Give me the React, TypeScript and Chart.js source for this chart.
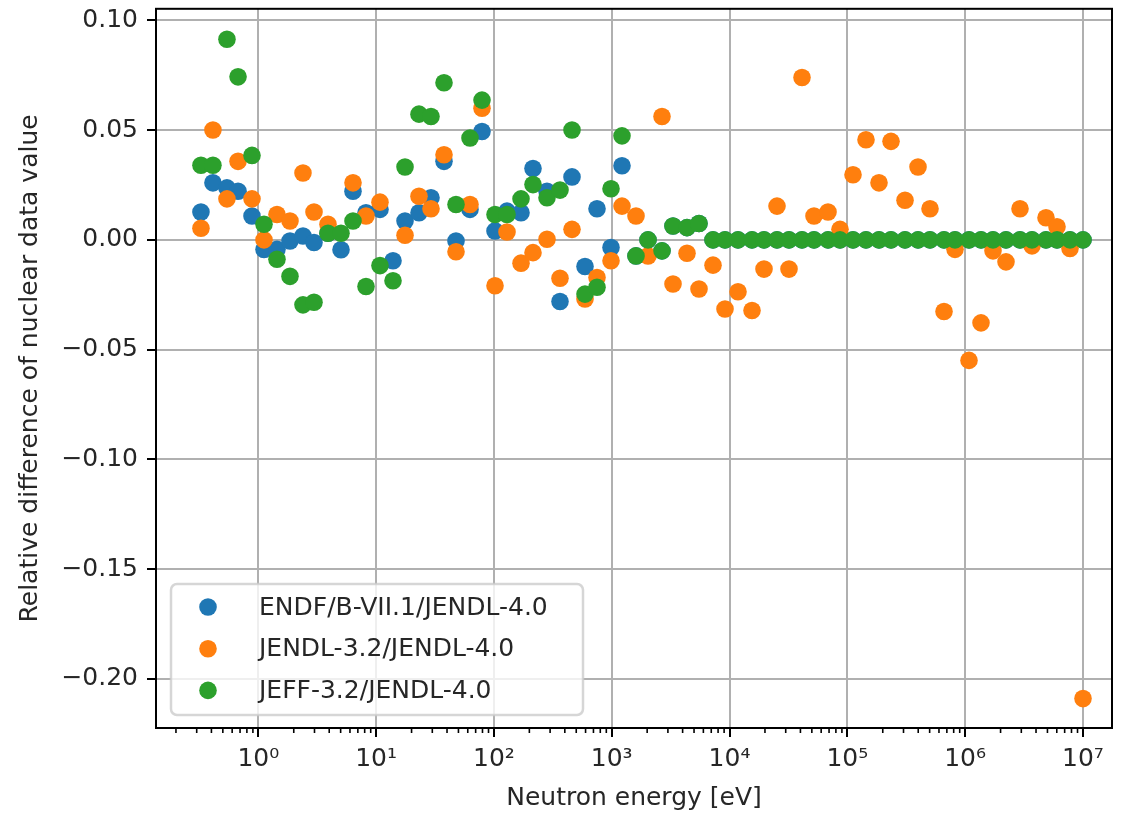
import { useEffect, useRef } from 'react';
import { Chart, registerables } from 'chart.js';

Chart.register(...registerables);

// Neutron energy grid [eV]
const energies = [
  0.326, 0.412, 0.542, 0.673, 0.884, 1.118, 1.441, 1.858, 2.395, 2.971,
  3.905, 5.036, 6.366, 8.209, 10.79, 13.92, 17.6, 23.13, 29.24, 37.71,
  47.68, 62.68, 79.25, 102.2, 129.2, 169.9, 214.7, 282.4, 364.0, 460.3,
  593.4, 750.4, 986.5, 1223, 1608, 2033, 2673, 3314, 4358, 5510,
  7244, 9158, 11810, 15530, 19630, 25310, 32000, 41260, 52160, 68600,
  86700, 111800, 144100, 185800, 235000, 309000, 398400, 503600, 662300, 820900,
  1079000, 1365000, 1725000, 2225000, 2924000, 3698000, 4862000, 6028000, 7773000, 10020000,
];

const endfB71 = [
  0.0127, 0.026, 0.0237, 0.0222, 0.0109, -0.0044, -0.0043, -0.0005, 0.0018, -0.0012,
  0.003, -0.0045, 0.0222, 0.0124, 0.0139, -0.0095, 0.0086, 0.0124, 0.0192, 0.0358,
  -0.0005, 0.0139, 0.0494, 0.0041, 0.0131, 0.0124, 0.0325, 0.0222, -0.0281, 0.0287,
  -0.0121, 0.0142, -0.0035, 0.0338, -0.0073, 0.0, -0.005, 0.0063, 0.0056, 0.0075,
  0, 0, 0, 0, 0, 0, 0, 0, 0, 0,
  0, 0, 0, 0, 0, 0, 0, 0, 0, 0,
  0, 0, 0, 0, 0, 0, 0, 0, 0, 0,
];

const jendl32 = [
  0.0053, 0.0501, 0.0187, 0.0358, 0.0187, 0.0, 0.0116, 0.0086, 0.0305, 0.0127,
  0.0071, null, 0.026, 0.0109, 0.0172, null, 0.0021, 0.0199, 0.0142, 0.0388,
  -0.0054, 0.0161, 0.06, -0.0209, 0.0036, -0.0106, -0.0058, 0.0003, -0.0175, 0.0048,
  -0.0269, -0.0171, -0.0095, 0.0154, 0.0109, -0.0073, 0.0562, -0.0201, -0.0061, -0.0224,
  -0.0115, -0.0315, -0.0236, -0.0322, -0.0133, 0.0154, -0.0133, 0.074, 0.0109, 0.0127,
  0.0048, 0.0297, 0.0456, 0.026, 0.0449, 0.0181, 0.0332, 0.0142, -0.0326, -0.0043,
  -0.0549, -0.0378, -0.005, -0.01, 0.0142, -0.0027, 0.0101, 0.006, -0.0039, -0.209,
];

const jeff32 = [
  0.034, 0.034, 0.0914, 0.0743, 0.0385, 0.0071, -0.0088, -0.0166, -0.0296, -0.0284,
  0.003, 0.003, 0.0086, -0.0212, -0.0117, -0.0186, 0.0332, 0.0573, 0.0562, 0.0716,
  0.0161, 0.0464, 0.0637, 0.0116, 0.0116, 0.0187, 0.0252, 0.0192, 0.0227, 0.0501,
  -0.0247, -0.0216, 0.0233, 0.0474, -0.0073, 0.0, -0.005, 0.0063, 0.0056, 0.0075,
  0, 0, 0, 0, 0, 0, 0, 0, 0, 0,
  0, 0, 0, 0, 0, 0, 0, 0, 0, 0,
  0, 0, 0, 0, 0, 0, 0, 0, 0, 0,
];

const seriesLabels = ['ENDF/B-VII.1/JENDL-4.0', 'JENDL-3.2/JENDL-4.0', 'JEFF-3.2/JENDL-4.0'];
const seriesColors = ['#1f77b4', '#ff7f0e', '#2ca02c'];
const seriesValues = [endfB71, jendl32, jeff32];

const xDecades = [0, 1, 2, 3, 4, 5, 6, 7];
const yTicks = [-0.2, -0.15, -0.1, -0.05, 0, 0.05, 0.1];
const SUP = ['\u2070', '\u00b9', '\u00b2', '\u00b3', '\u2074', '\u2075', '\u2076', '\u2077', '\u2078', '\u2079'];

const FONT = '"DejaVu Sans", sans-serif';
const FS = 25;

const decorPlugin = {
  id: 'decor',
  afterDraw(chart: any) {
    const { ctx, chartArea: a } = chart;
    const x = chart.scales.x;
    ctx.save();
    // minor ticks on log axis
    ctx.strokeStyle = '#000';
    ctx.lineWidth = 1.6;
    for (let e = -1; e <= 7; e++) {
      for (let k = 2; k <= 9; k++) {
        const v = k * Math.pow(10, e);
        if (v < x.min || v > x.max) continue;
        const px = x.getPixelForValue(v);
        ctx.beginPath();
        ctx.moveTo(px, a.bottom);
        ctx.lineTo(px, a.bottom + 5);
        ctx.stroke();
      }
    }
    // frame
    ctx.lineWidth = 2;
    ctx.strokeRect(a.left, a.top, a.right - a.left, a.bottom - a.top);

    // legend
    const lx = a.left + 15;
    const lw = 412;
    const lh = 131;
    const ly = a.bottom - 13 - lh;
    ctx.beginPath();
    (ctx as any).roundRect(lx, ly, lw, lh, 6);
    ctx.fillStyle = 'rgba(255,255,255,0.8)';
    ctx.fill();
    ctx.strokeStyle = 'rgba(204,204,204,0.8)';
    ctx.lineWidth = 2.5;
    ctx.stroke();
    ctx.font = `${FS}px ${FONT}`;
    ctx.textBaseline = 'middle';
    ctx.textAlign = 'left';
    chart.data.datasets.forEach((ds: any, i: number) => {
      const cy = ly + 23 + i * 41.7;
      ctx.beginPath();
      ctx.arc(lx + 37, cy, 8.8, 0, Math.PI * 2);
      ctx.fillStyle = ds.backgroundColor;
      ctx.fill();
      ctx.fillStyle = '#262626';
      ctx.fillText(ds.label, lx + 88, cy + 1);
    });
    ctx.restore();
  },
};

export default function App() {
  const ref = useRef<HTMLCanvasElement | null>(null);

  useEffect(() => {
    if (!ref.current) return;
    const datasets = seriesLabels.map((label, s) => ({
      label,
      data: energies
        .map((e, i) => ({ x: e, y: seriesValues[s][i] }))
        .filter((p) => p.y !== null && p.y !== undefined),
      backgroundColor: seriesColors[s],
      borderColor: seriesColors[s],
      pointRadius: 8.8,
      pointBorderWidth: 0,
      order: 3 - s,
    }));

    const font = { family: FONT, size: FS };
    const chart = new Chart(ref.current, {
      type: 'scatter',
      data: { datasets } as any,
      plugins: [decorPlugin],
      options: {
        responsive: false,
        animation: false,
        devicePixelRatio: 1,
        layout: { padding: { top: 5, right: 12, left: 0, bottom: 0 } },
        plugins: { legend: { display: false }, tooltip: { enabled: false } },
        scales: {
          x: {
            type: 'logarithmic',
            position: 'bottom',
            min: 0.1354,
            max: 1.766e7,
            afterBuildTicks: (s: any) => {
              s.ticks = xDecades.map((d) => ({ value: Math.pow(10, d), major: true }));
            },
            afterFit: (s: any) => {
              s.height = 97;
              s.paddingLeft = 0;
              s.paddingRight = 0;
            },
            ticks: {
              autoSkip: false,
              maxRotation: 0,
              color: '#262626',
              font,
              padding: 7,
              callback: (v: any) => '10' + SUP[Math.round(Math.log10(Number(v)))],
            },
            grid: { color: '#b0b0b0', lineWidth: 2, tickColor: '#000', tickLength: 9, tickWidth: 2 },
            border: { display: true, color: '#000', width: 2 },
            title: {
              display: true,
              text: 'Neutron energy [eV]',
              color: '#262626',
              font,
              padding: { top: 0, bottom: 12 },
            },
          },
          y: {
            type: 'linear',
            min: -0.2224,
            max: 0.1053,
            afterBuildTicks: (s: any) => {
              s.ticks = yTicks.map((v) => ({ value: v }));
            },
            afterFit: (s: any) => {
              s.width = 156;
              s.paddingTop = 0;
              s.paddingBottom = 0;
            },
            ticks: {
              color: '#262626',
              font,
              padding: 9,
              callback: (v: any) => (Number(v) < 0 ? '\u2212' : '') + Math.abs(Number(v)).toFixed(2),
            },
            grid: { color: '#b0b0b0', lineWidth: 2, tickColor: '#000', tickLength: 9, tickWidth: 2 },
            border: { display: true, color: '#000', width: 2 },
            title: {
              display: true,
              text: 'Relative difference of nuclear data value',
              color: '#262626',
              font,
              padding: { top: 15, bottom: 0 },
            },
          },
        },
      } as any,
    });
    return () => chart.destroy();
  }, []);

  return (
    <div style={{ position: 'fixed', left: 0, top: 0, width: 1124, height: 825, background: '#fff' }}>
      <canvas ref={ref} width={1124} height={825} />
    </div>
  );
}
